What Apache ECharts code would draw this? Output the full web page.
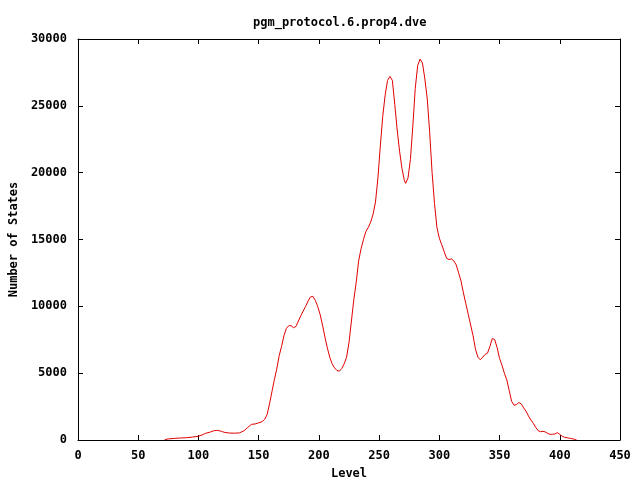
<!DOCTYPE html>
<html>
<head>
<meta charset="utf-8">
<script src="https://cdn.jsdelivr.net/npm/echarts@6/dist/echarts.min.js"></script>
<style>
  html, body { margin: 0; padding: 0; background: #fff; }
  #chart { width: 640px; height: 480px; }
</style>
</head>
<body>
<div id="chart"></div>
<script>
const levels = [72, 75, 80, 85, 90, 95, 100, 103, 106, 110, 113, 116, 119, 122, 126, 130, 134, 138, 141, 144,
  147, 150, 153, 155, 157, 159, 161, 163, 165, 167, 169, 171, 173, 175, 177, 179, 181, 183, 185, 187,
  189, 191, 193, 195, 197, 199, 201, 203, 205, 207, 209, 211, 213, 215, 217, 219, 221, 223, 225, 227,
  229, 231, 233, 235, 237, 239, 241, 243, 245, 247, 249, 251, 253, 255, 257, 259, 261, 263, 265, 267,
  269, 271, 272, 274, 276, 278, 280, 282, 284, 286, 288, 290, 292, 294, 296, 298, 300, 302, 304, 306,
  308, 310, 312, 314, 316, 318, 320, 322, 324, 326, 328, 330, 332, 334, 336, 338, 340, 342, 344, 346,
  348, 350, 352, 354, 356, 358, 360, 362, 364, 366, 368, 370, 372, 374, 376, 378, 380, 382, 384, 386,
  388, 390, 392, 394, 396, 398, 400, 402, 404, 406, 408, 410, 412, 414]
const states = [30, 80, 120, 150, 170, 220, 280, 380, 500, 600, 700, 720, 650, 560, 520, 510, 530, 700, 950, 1170,
  1200, 1280, 1380, 1550, 1900, 2700, 3600, 4500, 5300, 6300, 7000, 7800, 8350, 8550, 8550, 8400, 8500, 8900, 9300, 9650,
  10000, 10400, 10700, 10750, 10450, 10000, 9400, 8600, 7700, 6900, 6200, 5700, 5400, 5200, 5150, 5350, 5700, 6200, 7300, 8900,
  10500, 11800, 13400, 14300, 15000, 15600, 15900, 16300, 16900, 17800, 19600, 22000, 24200, 25800, 26900, 27200, 26900, 25100, 23200, 21600,
  20300, 19400, 19200, 19600, 21000, 23500, 26300, 28000, 28500, 28200, 27000, 25500, 23000, 20000, 17700, 15900, 15100, 14600, 14100, 13600,
  13500, 13550, 13400, 13100, 12500, 11900, 11000, 10200, 9400, 8600, 7800, 6800, 6200, 6000, 6200, 6400, 6500, 7000, 7600, 7500,
  6900, 6100, 5600, 5000, 4500, 3700, 2900, 2600, 2650, 2800, 2700, 2400, 2150, 1800, 1500, 1250, 950, 700, 620, 650,
  600, 500, 420, 430, 450, 550, 420, 280, 200, 170, 130, 100, 60, 0]

const font = 'DejaVu Sans Mono'
const txt = { fontFamily: font, fontWeight: 'bold', fontSize: 12, color: '#000' }

const chart = echarts.init(document.getElementById('chart'), null, { renderer: 'canvas' })

// box axes: labels on bottom/left, mirrored ticks on top/right
const xBase = {
  type: 'value', min: 0, max: 450, interval: 50,
  axisLine: { show: true, onZero: false, lineStyle: { color: '#000', width: 1 } },
  axisTick: { show: true, inside: true, length: 5, lineStyle: { color: '#000' } },
  splitLine: { show: false }
}
const yBase = {
  type: 'value', min: 0, max: 30000, interval: 5000,
  axisLine: { show: true, onZero: false, lineStyle: { color: '#000', width: 1 } },
  axisTick: { show: true, inside: true, length: 5, lineStyle: { color: '#000' } },
  splitLine: { show: false }
}

chart.setOption({
  animation: false,
  backgroundColor: '#fff',
  title: {
    text: 'pgm_protocol.6.prop4.dve',
    left: 248, top: 12,
    textStyle: txt
  },
  grid: { left: 78, right: 20, top: 39, bottom: 40, outerBoundsMode: 'none' },
  xAxis: [
    Object.assign({}, xBase, {
      position: 'bottom',
      name: 'Level', nameLocation: 'middle', nameGap: 28, nameTextStyle: txt,
      axisLabel: Object.assign({ margin: 10, formatter: v => String(v) }, txt)
    }),
    Object.assign({}, xBase, { position: 'top', axisLabel: { show: false } })
  ],
  yAxis: [
    Object.assign({}, yBase, {
      position: 'left',
      name: 'Number of States', nameLocation: 'middle', nameGap: 58, nameRotate: 90, nameTextStyle: txt,
      axisLabel: Object.assign({ margin: 11, formatter: v => String(v) }, txt)
    }),
    Object.assign({}, yBase, { position: 'right', axisLabel: { show: false } })
  ],
  series: [{
    type: 'line',
    xAxisIndex: 0, yAxisIndex: 0,
    data: levels.map((l, i) => [l, states[i]]),
    showSymbol: false,
    lineStyle: { color: '#e00000', width: 1 }
  }]
})
</script>
</body>
</html>
